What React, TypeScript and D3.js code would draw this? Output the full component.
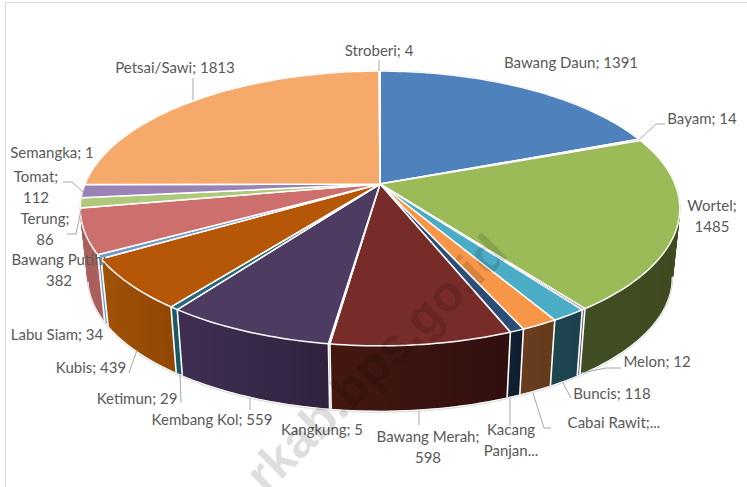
import React from "react";
import * as d3 from "d3";

// Values in slice order, clockwise from 12 o'clock
const names = ["Bawang Daun","Bayam","Wortel","Melon","Buncis","Cabai Rawit","Kacang Panjang","Bawang Merah","Kangkung","Kembang Kol","Ketimun","Kubis","Labu Siam","Bawang Putih","Terung","Tomat","Semangka","Petsai/Sawi","Stroberi"];
const values = [1391,14,1485,12,118,122,48,598,5,559,29,439,34,382,86,112,1,1813,4];
const topColors = ["#4f81bd","#c0504d","#9bbb59","#8064a2","#4bacc6","#f79646","#2c4d75","#772c2a","#5f7530","#4d3b62","#276a7c","#b65708","#729aca","#cd6f6c","#afc97a","#9983b5","#6fc3d8","#f5aa6b","#3a5f8b"];
const wallLeft = ["#2f4d71","#733030","#414d23","#5d5478","#1d4650","#693d1d","#10202f","#44180f","#3a4620","#402e52","#1a5a68","#a15206","#6d98c8","#ab5f5c","#ab5f5c","#ab5f5c","#ab5f5c","#ab5f5c","#24394f"];
const wallRight = ["#2f4d71","#733030","#3f4a21","#5d5478","#1c424c","#633a1b","#0f1d2e","#300f0f","#3a4620","#30233f","#1a5a68","#914704","#6d98c8","#ab5f5c","#ab5f5c","#ab5f5c","#ab5f5c","#ab5f5c","#24394f"];

// Label text: [lines]; the two truncated labels keep the reference's ellipsis
const labelLines = names.map((n, i) => [`${n}; ${values[i]}`]);
labelLines[2] = ["Wortel;", "1485"];
labelLines[5] = ["Cabai Rawit;..."];
labelLines[6] = ["Kacang", "Panjan..."];
labelLines[7] = ["Bawang Merah;", "598"];
labelLines[13] = ["Bawang Putih;", "382"];
labelLines[14] = ["Terung;", "86"];
labelLines[15] = ["Tomat;", "112"];

// Label placement, centre x and first baseline, same order as names
const labelX = [571,702,712,657,612,614,511,428,322,212,137,91,57,59,45,36,52,175,379];
const labelY = [68,124,211,367,399,428,435,442,435,425,404,373,340,265,224,182,158,73,56];
const leaderPaths: (string | null)[] = [null,"M665 124H656L639 140",null,"M621 368H606L581 373","M571 398L562 381","M551 428H544L533 393","M510 398V426","M419 411V425",null,"M250 398V410","M180 375L181 403","M137 350L129 373",null,null,"M81 210L76 234H67","M63 182H72L83 192",null,"M193 78V100","M379 60V71"];

const W = 747, H = 487;
const cx = 380, cyTop = 184, cyBottom = 253;
const A = 295, B = 133, k = 0.178, shrink = 0.975;

function project(theta: number, bottom: boolean): [number, number] {
  const u = Math.sin(theta), v = Math.cos(theta), w = 1 + k * v;
  const s = bottom ? shrink : 1;
  return [cx + (A * s * u) / w, (bottom ? cyBottom : cyTop) - (B * s * v) / w];
}

function arcPts(a0: number, a1: number, bottom: boolean): [number, number][] {
  const n = Math.max(2, Math.ceil((a1 - a0) / 0.02));
  return d3.range(n + 1).map((i) => project(a0 + ((a1 - a0) * i) / n, bottom));
}

// Swept wall: one consistently wound quad per arc step, so the tangent between the two rims is filled
function wallPath(a0: number, a1: number): string {
  const top = arcPts(a0, a1, false), bot = arcPts(a0, a1, true);
  const parts: string[] = [];
  for (let i = 0; i < top.length - 1; i++) {
    const q: [number, number][] = [top[i], top[i + 1], bot[i + 1], bot[i]];
    if (d3.polygonArea(q) < 0) q.reverse();
    parts.push(d3.line()(q)! + "Z");
  }
  return parts.join("");
}

const pieGen = d3.pie<number>().sort(null).startAngle(0).endAngle(2 * Math.PI);
const arcs = pieGen(values);
const line = d3.line();
const frontStart = (100 * Math.PI) / 180, frontEnd = (258 * Math.PI) / 180;

export default function App() {
  return (
    <svg width={W} height={H} viewBox={`0 0 ${W} ${H}`} style={{ position: "absolute", left: 0, top: 0, background: "#fff" }}>
      <defs>
        {arcs.map((a, i) => {
          const xs = arcPts(a.startAngle, a.endAngle, false).map((p) => p[0]);
          return (
            <linearGradient key={i} id={`w${i}`} gradientUnits="userSpaceOnUse" x1={d3.min(xs)} x2={Math.max(d3.max(xs)!, d3.min(xs)! + 1)} y1={0} y2={0}>
              <stop offset="0" stopColor={wallLeft[i]} />
              <stop offset="1" stopColor={wallRight[i]} />
            </linearGradient>
          );
        })}
      </defs>
      <path d="M5.5 487V2.5H747" fill="none" stroke="#d9d9d9" strokeWidth={1} />
      <g>
        {arcs.map((a, i) => (
          <path key={i} d={wallPath(a.startAngle, a.endAngle)} fill={`url(#w${i})`} stroke={`url(#w${i})`} strokeWidth={0.6} />
        ))}
        {arcs.filter((a) => a.startAngle < frontEnd).map((a, i) => {
          const p0 = project(a.startAngle, false), p1 = project(a.startAngle, true);
          return <path key={i} d={line([p0, p1])!} stroke="#fff" strokeWidth={1.6} fill="none" />;
        })}
        <path d={line(arcPts(frontStart, frontEnd, true))!} fill="none" stroke="#fff" strokeWidth={1.2} transform="translate(0,0.5)" />
        <path d={line(arcPts(frontStart, frontEnd, true))!} fill="none" stroke="#d9d9d9" strokeWidth={1} transform="translate(0,1.5)" />
        {arcs.map((a, i) => {
          const pts = arcPts(a.startAngle, a.endAngle, false);
          return <path key={i} d={line([[cx, cyTop], ...pts])! + "Z"} fill={topColors[i]} stroke="#fff" strokeWidth={1.5} strokeLinejoin="round" />;
        })}
      </g>
      <g fill="none" stroke="#a6a6a6" strokeWidth={1}>
        {leaderPaths.map((d, i) => (d ? <path key={i} d={d} /> : null))}
      </g>
      <g fontFamily="Lato, sans-serif" fontSize={15} fill="#595959" textAnchor="middle">
        {labelLines.map((lines, i) => (
          <text key={i} x={labelX[i]} y={labelY[i]}>
            {lines.map((t, j) => (
              <tspan key={j} x={labelX[i]} dy={j === 0 ? 0 : 20.5}>{t}</tspan>
            ))}
          </text>
        ))}
      </g>
      <text transform="translate(266,495) rotate(-44.5)" fontFamily="Liberation Sans, sans-serif" fontWeight={700} fontSize={50} fill="#000" fillOpacity={0.13}>rkab.bps.go.id</text>
    </svg>
  );
}
